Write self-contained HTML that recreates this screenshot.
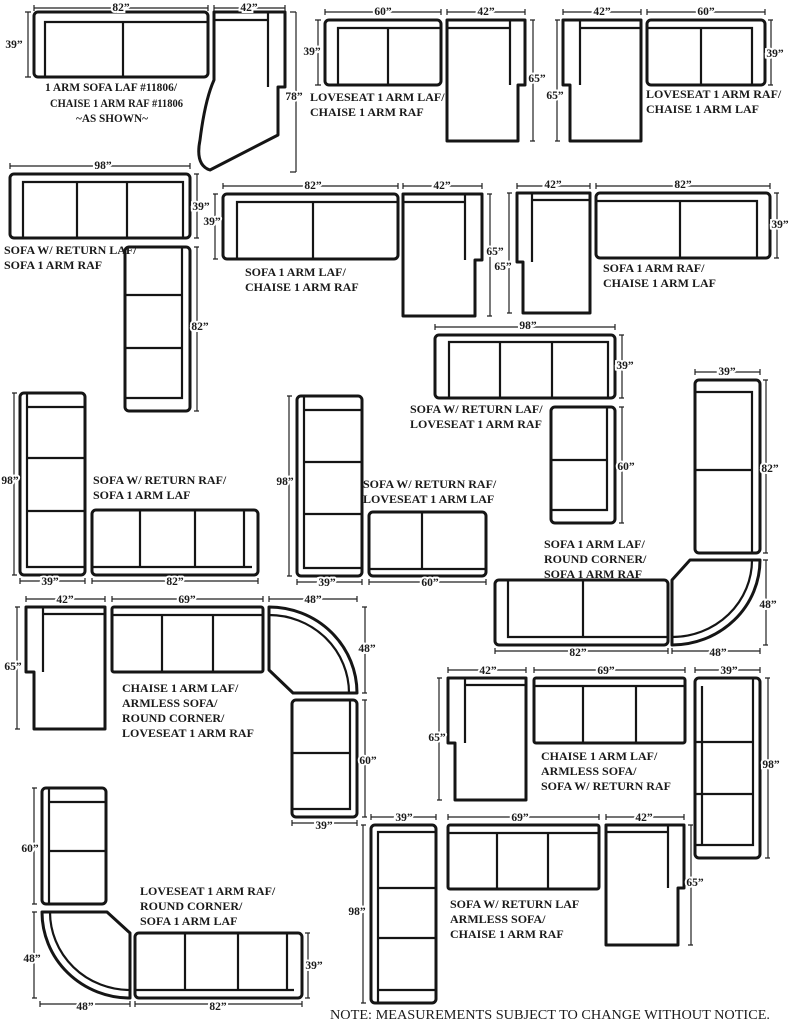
<!DOCTYPE html>
<html><head><meta charset="utf-8"><style>
html,body{margin:0;padding:0;background:#fff;}
svg{display:block}
.o{fill:#fff;stroke:#151515;stroke-width:3;stroke-linejoin:round}
.i{fill:none;stroke:#151515;stroke-width:2.2}
.d{fill:none;stroke:#222;stroke-width:1.2}
text{font-family:"Liberation Serif",serif;font-weight:bold;fill:#1a1a1a;font-size:12px}
.m{font-size:11.5px;stroke:#fff;stroke-width:4;paint-order:stroke;text-anchor:middle}
.n{font-weight:normal;font-size:14px}
</style></head><body>
<svg width="800" height="1025" viewBox="0 0 800 1025" xmlns="http://www.w3.org/2000/svg">

<!-- 1 sofa LAF + chaise -->
<rect class="o" x="34" y="12" width="174" height="65" rx="4"/>
<path class="i" d="M45,77 V22 H208 M123,22 V77"/>
<path class="o" d="M214,12 H285 V87 H278 V135 L210,170 Q195,165 200,140 Q205,100 214,80 Z"/>
<path class="i" d="M214,20 H268 M268,12 V87"/>
<path class="d" d="M34,5v6M34,8H208M208,5v6 M214,5v6M214,8H285M285,5v6 M25,12h6M28,12V77M25,77h6 M290,12h6M296,12V172M290,172h6"/>
<text class="m" x="121" y="11">82”</text><text class="m" x="249" y="11">42”</text>
<text class="m" x="14" y="48">39”</text><text class="m" x="294" y="100">78”</text>
<text x="45" y="91" textLength="132" lengthAdjust="spacingAndGlyphs">1 ARM SOFA LAF #11806/</text>
<text x="50" y="107" textLength="133" lengthAdjust="spacingAndGlyphs">CHAISE 1 ARM RAF #11806</text>
<text x="76" y="122" textLength="72" lengthAdjust="spacingAndGlyphs">~AS SHOWN~</text>

<!-- 3 loveseat LAF + chaise RAF -->
<rect class="o" x="325" y="20" width="116" height="65" rx="4"/>
<path class="i" d="M338,85 V28 H441 M388,28 V85"/>
<path class="o" d="M447,20 H525 V85 H518 V141 H447 Z"/>
<path class="i" d="M447,28 H510 M510,20 V85"/>
<path class="d" d="M325,9v6M325,12H441M441,9v6 M447,9v6M447,12H525M525,9v6 M315,20h6M318,20V85M315,85h6 M530,20h5M533,20V141M530,141h5"/>
<text class="m" x="383" y="15">60”</text><text class="m" x="486" y="15">42”</text>
<text class="m" x="312" y="55">39”</text><text class="m" x="537" y="82">65”</text>
<text x="310" y="101">LOVESEAT 1 ARM LAF/</text><text x="310" y="116">CHAISE 1 ARM RAF</text>

<!-- 5 chaise LAF + loveseat RAF -->
<path class="o" d="M563,20 H641 V141 H570 V85 H563 Z"/>
<path class="i" d="M580,28 H641 M580,20 V85"/>
<rect class="o" x="647" y="20" width="118" height="65" rx="4"/>
<path class="i" d="M647,28 H752 V85 M701,28 V85"/>
<path class="d" d="M563,9v6M563,12H641M641,9v6 M647,9v6M647,12H765M765,9v6 M555,20h5M557,20V141M555,141h5 M768,20h5M771,20V85M768,85h5"/>
<text class="m" x="602" y="15">42”</text><text class="m" x="706" y="15">60”</text>
<text class="m" x="555" y="99">65”</text><text class="m" x="775" y="57">39”</text>
<text x="646" y="98">LOVESEAT 1 ARM RAF/</text><text x="646" y="113">CHAISE 1 ARM LAF</text>

<!-- 7 sofa w/ return LAF / sofa RAF -->
<rect class="o" x="10" y="174" width="180" height="64" rx="4"/>
<path class="i" d="M23,238 V182 H183 V238 M77,182 V238 M127,182 V238"/>
<rect class="o" x="125" y="247" width="65" height="164" rx="4"/>
<path class="i" d="M125,398 H182 V247 M125,295 H182 M125,348 H182"/>
<path class="d" d="M10,163v6M10,166H190M190,163v6 M194,174h5M197,174V238M194,238h5 M194,247h5M197,247V411M194,411h5"/>
<text class="m" x="103" y="169">98”</text><text class="m" x="201" y="210">39”</text><text class="m" x="200" y="330">82”</text>
<text x="4" y="254">SOFA W/ RETURN LAF/</text><text x="4" y="269">SOFA 1 ARM RAF</text>

<!-- 8 sofa LAF + chaise RAF -->
<rect class="o" x="223" y="194" width="175" height="65" rx="4"/>
<path class="i" d="M237,259 V202 H398 M313,202 V259"/>
<path class="o" d="M403,194 H482 V260 H475 V316 H403 Z"/>
<path class="i" d="M403,202 H465 M465,194 V260"/>
<path class="d" d="M223,183v6M223,186H398M398,183v6 M403,183v6M403,186H482M482,183v6 M213,194h5M215,194V259M213,259h5 M487,194h5M490,194V316M487,316h5"/>
<text class="m" x="313" y="189">82”</text><text class="m" x="442" y="189">42”</text>
<text class="m" x="212" y="225">39”</text><text class="m" x="495" y="255">65”</text>
<text x="245" y="276">SOFA 1 ARM LAF/</text><text x="245" y="291">CHAISE 1 ARM RAF</text>

<!-- 10 chaise LAF + sofa RAF -->
<path class="o" d="M517,193 H590 V313 H523 V262 H517 Z"/>
<path class="i" d="M532,200 H590 M532,193 V262"/>
<rect class="o" x="596" y="193" width="174" height="65" rx="4"/>
<path class="i" d="M596,201 H757 V258 M680,201 V258"/>
<path class="d" d="M517,183v6M517,186H590M590,183v6 M596,183v6M596,186H770M770,183v6 M507,193h5M509,193V313M507,313h5 M774,193h5M777,193V258M774,258h5"/>
<text class="m" x="553" y="188">42”</text><text class="m" x="683" y="188">82”</text>
<text class="m" x="503" y="270">65”</text><text class="m" x="780" y="228">39”</text>
<text x="603" y="272">SOFA 1 ARM RAF/</text><text x="603" y="287">CHAISE 1 ARM LAF</text>

<!-- 12 sofa w/ return LAF / loveseat RAF -->
<rect class="o" x="435" y="335" width="180" height="63" rx="4"/>
<path class="i" d="M449,398 V342 H608 V398 M500,342 V398 M552,342 V398"/>
<rect class="o" x="551" y="407" width="64" height="116" rx="4"/>
<path class="i" d="M551,510 H607 V407 M551,460 H607"/>
<path class="d" d="M435,324v6M435,327H615M615,324v6 M619,335h5M622,335V398M619,398h5 M619,407h5M622,407V523M619,523h5"/>
<text class="m" x="528" y="329">98”</text><text class="m" x="625" y="369">39”</text><text class="m" x="626" y="470">60”</text>
<text x="410" y="413">SOFA W/ RETURN LAF/</text><text x="410" y="428">LOVESEAT 1 ARM RAF</text>

<!-- 13 sofa LAF / round corner / sofa RAF -->
<rect class="o" x="695" y="380" width="65" height="173" rx="4"/>
<path class="i" d="M695,392 H752 V553 M695,470 H752"/>
<path class="o" d="M690,560 H760 A88,85 0 0 1 672,645 V580 Z"/>
<path class="i" d="M752,560 A80,77 0 0 1 672,637"/>
<rect class="o" x="495" y="580" width="173" height="65" rx="4"/>
<path class="i" d="M508,580 V637 H668 M583,580 V637"/>
<path class="d" d="M695,369v6M695,372H760M760,369v6 M763,380h5M766,380V553M763,553h5 M763,560h5M766,560V645M763,645h5 M495,648v6M495,651H668M668,648v6 M672,648v6M672,651H760M760,648v6"/>
<text class="m" x="727" y="375">39”</text><text class="m" x="770" y="472">82”</text><text class="m" x="768" y="608">48”</text>
<text class="m" x="578" y="656">82”</text><text class="m" x="718" y="656">48”</text>
<text x="544" y="548">SOFA 1 ARM LAF/</text><text x="544" y="563">ROUND CORNER/</text><text x="544" y="578">SOFA 1 ARM RAF</text>

<!-- 14 sofa w/ return RAF / sofa LAF -->
<rect class="o" x="20" y="393" width="65" height="182" rx="4"/>
<path class="i" d="M27,393 V567 H85 M27,407 H85 M27,458 H85 M27,511 H85"/>
<rect class="o" x="92" y="510" width="166" height="65" rx="4"/>
<path class="i" d="M92,567 H252 M244,510 V567 M140,510 V567 M195,510 V567"/>
<path class="d" d="M12,393h5M14,393V575M12,575h5 M20,578v6M20,581H85M85,578v6 M92,578v6M92,581H258M258,578v6"/>
<text class="m" x="10" y="484">98”</text><text class="m" x="50" y="585">39”</text><text class="m" x="175" y="585">82”</text>
<text x="93" y="484">SOFA W/ RETURN RAF/</text><text x="93" y="499">SOFA 1 ARM LAF</text>

<!-- 15 sofa w/ return RAF / loveseat LAF -->
<rect class="o" x="297" y="396" width="65" height="180" rx="4"/>
<path class="i" d="M304,396 V568 H362 M304,410 H362 M304,462 H362 M304,514 H362"/>
<rect class="o" x="369" y="512" width="117" height="64" rx="4"/>
<path class="i" d="M369,569 H486 M422,512 V569"/>
<path class="d" d="M287,396h5M289,396V576M287,576h5 M297,579v6M297,582H362M362,579v6 M369,579v6M369,582H486M486,579v6"/>
<text class="m" x="285" y="485">98”</text><text class="m" x="327" y="586">39”</text><text class="m" x="430" y="586">60”</text>
<text x="363" y="488">SOFA W/ RETURN RAF/</text><text x="363" y="503">LOVESEAT 1 ARM LAF</text>

<!-- 16 chaise LAF / armless / round corner / loveseat RAF -->
<path class="o" d="M26,607 H105 V729 H34 V672 H26 Z"/>
<path class="i" d="M43,614 H105 M43,607 V672"/>
<rect class="o" x="112" y="607" width="151" height="65" rx="2"/>
<path class="i" d="M112,615 H263 M162,615 V672 M213,615 V672"/>
<path class="o" d="M269,607 A88,86 0 0 1 357,693 H293 L269,670 Z"/>
<path class="i" d="M269,615 A80,78 0 0 1 349,693"/>
<rect class="o" x="292" y="700" width="65" height="117" rx="4"/>
<path class="i" d="M292,809 H350 V700 M292,753 H350"/>
<path class="d" d="M26,596v6M26,599H105M105,596v6 M112,596v6M112,599H263M263,596v6 M269,596v6M269,599H357M357,596v6 M15,607h5M17,607V729M15,729h5 M362,607h5M365,607V693M362,693h5 M362,700h5M365,700V817M362,817h5 M292,820v6M292,823H357M357,820v6"/>
<text class="m" x="65" y="603">42”</text><text class="m" x="187" y="603">69”</text><text class="m" x="313" y="603">48”</text>
<text class="m" x="13" y="670">65”</text><text class="m" x="367" y="652">48”</text><text class="m" x="368" y="764">60”</text><text class="m" x="324" y="829">39”</text>
<text x="122" y="692">CHAISE  1 ARM LAF/</text><text x="122" y="707">ARMLESS SOFA/</text><text x="122" y="722">ROUND CORNER/</text><text x="122" y="737">LOVESEAT 1 ARM RAF</text>

<!-- 17 chaise LAF / armless / sofa w/ return RAF -->
<path class="o" d="M448,678 H526 V800 H455 V743 H448 Z"/>
<path class="i" d="M465,685 H526 M465,678 V743"/>
<rect class="o" x="534" y="678" width="151" height="65" rx="2"/>
<path class="i" d="M534,686 H685 M583,686 V743 M636,686 V743"/>
<rect class="o" x="695" y="678" width="65" height="180" rx="4"/>
<path class="i" d="M695,845 H753 V678 M702,686 V845 M695,742 H753 M695,794 H753"/>
<path class="d" d="M448,667v6M448,670H526M526,667v6 M534,667v6M534,670H685M685,667v6 M695,667v6M695,670H760M760,667v6 M437,678h5M439,678V800M437,800h5 M765,678h5M768,678V858M765,858h5"/>
<text class="m" x="488" y="674">42”</text><text class="m" x="606" y="674">69”</text><text class="m" x="729" y="674">39”</text>
<text class="m" x="437" y="741">65”</text><text class="m" x="771" y="768">98”</text>
<text x="541" y="760">CHAISE 1 ARM LAF/</text><text x="541" y="775">ARMLESS SOFA/</text><text x="541" y="790">SOFA W/ RETURN RAF</text>

<!-- 18 loveseat RAF / round corner / sofa LAF -->
<rect class="o" x="42" y="788" width="64" height="116" rx="4"/>
<path class="i" d="M49,788 V904 M49,802 H106 M49,851 H106"/>
<path class="o" d="M42,912 H107 L130,933 V998 A88,86 0 0 1 42,912 Z"/>
<path class="i" d="M50,912 A80,78 0 0 0 130,990"/>
<rect class="o" x="135" y="933" width="167" height="65" rx="4"/>
<path class="i" d="M135,990 H294 M287,933 V990 M185,933 V990 M238,933 V990"/>
<path class="d" d="M32,788h5M34,788V904M32,904h5 M32,912h5M34,912V998M32,998h5 M40,1001v6M40,1004H130M130,1001v6 M135,1001v6M135,1004H302M302,1001v6 M305,933h5M308,933V998M305,998h5"/>
<text class="m" x="30" y="852">60”</text><text class="m" x="32" y="962">48”</text>
<text class="m" x="85" y="1010">48”</text><text class="m" x="218" y="1010">82”</text><text class="m" x="314" y="969">39”</text>
<text x="140" y="895">LOVESEAT 1 ARM RAF/</text><text x="140" y="910">ROUND CORNER/</text><text x="140" y="925">SOFA 1 ARM LAF</text>

<!-- 19 sofa w/ return LAF / armless / chaise RAF -->
<rect class="o" x="371" y="825" width="65" height="178" rx="4"/>
<path class="i" d="M378,1003 V832 H436 M378,990 H436 M378,888 H436 M378,938 H436"/>
<rect class="o" x="448" y="825" width="151" height="64" rx="2"/>
<path class="i" d="M448,833 H599 M497,833 V889 M548,833 V889"/>
<path class="o" d="M606,825 H684 V888 H678 V945 H606 Z"/>
<path class="i" d="M606,832 H668 M668,825 V888"/>
<path class="d" d="M371,814v6M371,817H436M436,814v6 M448,814v6M448,817H599M599,814v6 M606,814v6M606,817H684M684,814v6 M361,825h5M363,825V1003M361,1003h5 M688,825h5M691,825V945M688,945h5"/>
<text class="m" x="404" y="821">39”</text><text class="m" x="520" y="821">69”</text><text class="m" x="644" y="821">42”</text>
<text class="m" x="357" y="915">98”</text><text class="m" x="695" y="886">65”</text>
<text x="450" y="908">SOFA W/ RETURN LAF</text><text x="450" y="923">ARMLESS SOFA/</text><text x="450" y="938">CHAISE 1 ARM RAF</text>

<text class="n" x="330" y="1019" textLength="440" lengthAdjust="spacingAndGlyphs">NOTE:  MEASUREMENTS SUBJECT TO CHANGE WITHOUT NOTICE.</text>
</svg>
</body></html>
